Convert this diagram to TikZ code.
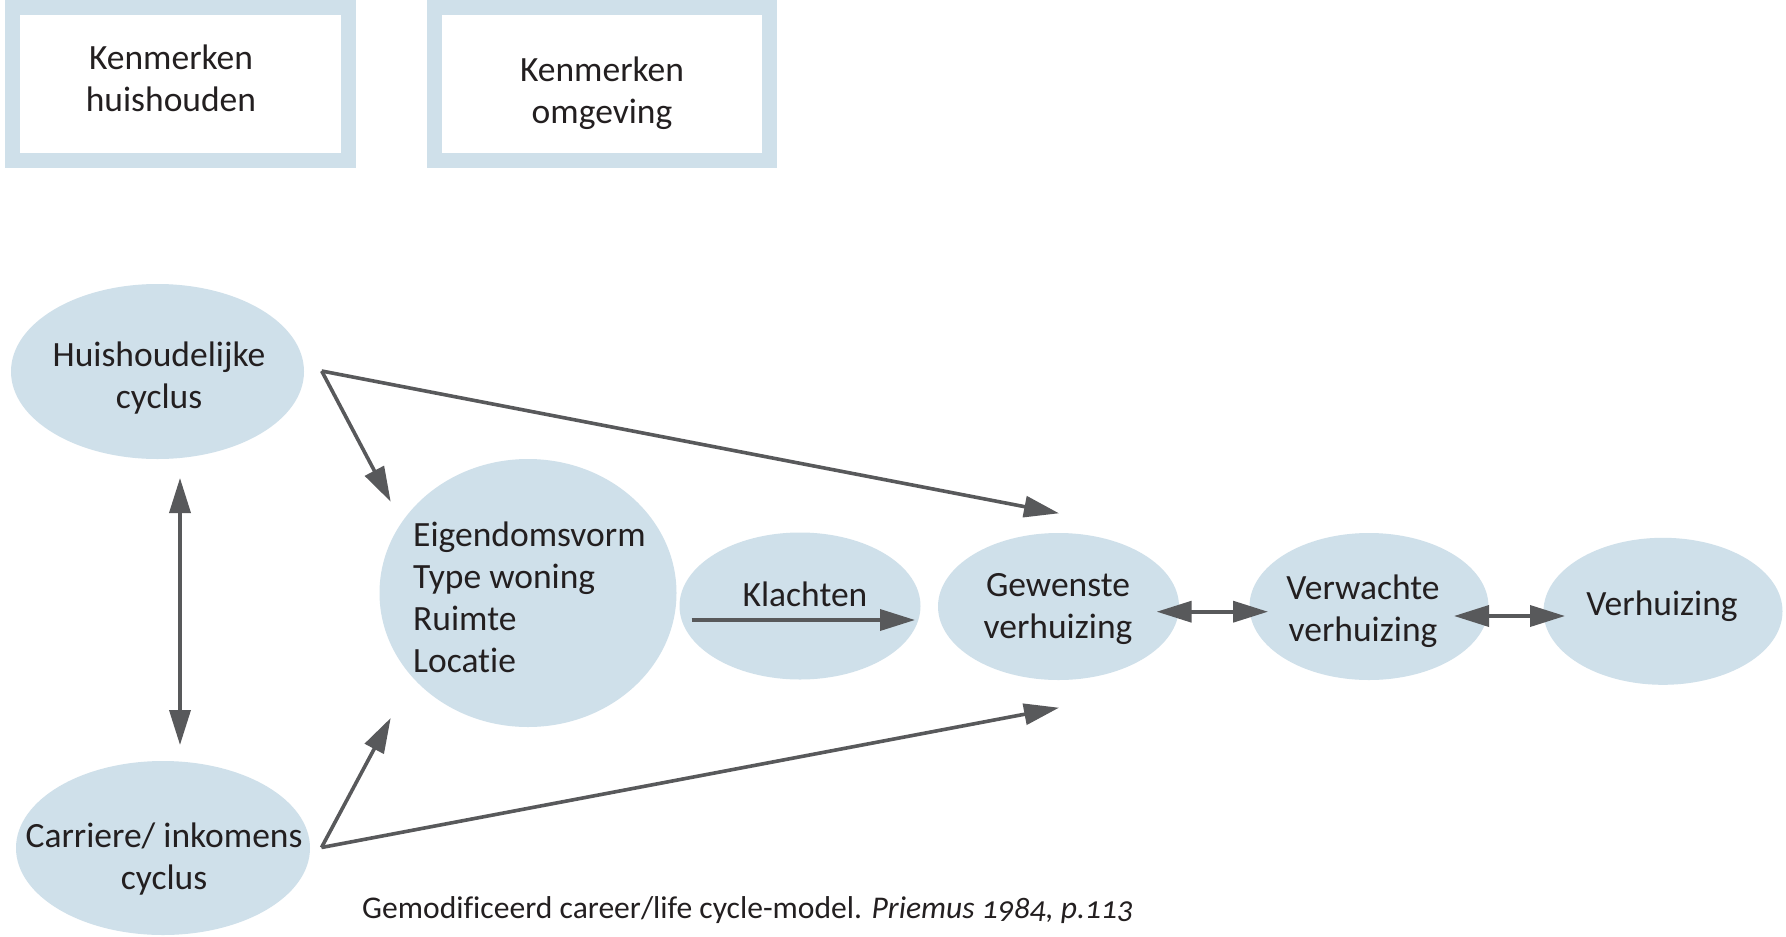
\documentclass[tikz,border=0pt]{standalone}
\usepackage{fontspec}
\setmainfont{Carlito}[Ligatures=NoCommon]
\usetikzlibrary{shapes.geometric,arrows.meta}

\definecolor{bubblefill}{RGB}{207,224,234}
\definecolor{arrowgray}{RGB}{88,89,91}
\definecolor{inkdark}{RGB}{35,31,32}

\tikzset{
  bubble/.style={ellipse, fill=bubblefill, draw=none, inner sep=0pt},
  framebox/.style={rectangle, draw=bubblefill, line width=15pt, fill=white, inner sep=0pt},
  lbl/.style={text=inkdark, font=\fontsize{35.5pt}{42pt}\selectfont, inner sep=0pt, align=center},
  lblleft/.style={lbl, align=left},
  caption/.style={text=inkdark, font=\fontsize{31.6pt}{38pt}\selectfont, inner sep=0pt},
  link/.style={draw=arrowgray, line width=3.6pt,
    -{Triangle[length=35pt,width=21pt]}},
  duallink/.style={draw=arrowgray, line width=3.6pt,
    {Triangle[length=35pt,width=21pt]}-{Triangle[length=35pt,width=21pt]}}
}

\begin{document}
\begin{tikzpicture}[x=1pt,y=-1pt]
  \useasboundingbox (0,0) rectangle (1786,937);
  \fill[white] (0,0) rectangle (1786,937);

  % framed boxes along the top
  \node[framebox, minimum width=336pt, minimum height=153pt] (boxHH) at (180.5,84) {};
  \node[framebox, minimum width=335pt, minimum height=153pt] (boxOM) at (602,84) {};
  \node[lbl] (boxHHtxt) at (171,78) {Kenmerken\\huishouden};
  \node[lbl] (boxOMtxt) at (602,93) {Kenmerken\\omgeving};

  % ellipses
  \node[bubble, minimum width=293pt, minimum height=175pt] (hh) at (157.5,371.5) {};
  \node[bubble, minimum width=294pt, minimum height=174pt] (ci) at (163,848) {};
  \node[bubble, minimum width=297pt, minimum height=268pt] (eig) at (528,593) {};
  \node[bubble, minimum width=241pt, minimum height=147pt] (kl) at (800,606) {};
  \node[bubble, minimum width=241pt, minimum height=147pt] (gew) at (1058.5,606.5) {};
  \node[bubble, minimum width=239pt, minimum height=147pt] (verw) at (1369,606.5) {};
  \node[bubble, minimum width=239pt, minimum height=147pt] (verh) at (1663,611.3) {};

  % ellipse texts
  \node[lbl] (hhtxt) at (159,378) {Huishoudelijke\\cyclus};
  \node[lbl] (citxt) at (164,859.5) {Carriere/ inkomens\\cyclus};
  \node[lblleft, anchor=west] (eigtxt) at (413,597.5) {Eigendomsvorm\\Type woning\\Ruimte\\Locatie};
  \node[lbl, anchor=base] (kltxt) at (805,606) {Klachten};
  \node[lbl] (gewtxt) at (1058,609.5) {Gewenste\\verhuizing};
  \node[lbl] (verwtxt) at (1363,611) {Verwachte\\verhuizing};
  \node[lbl, anchor=base] (verhtxt) at (1662,615) {Verhuizing};

  % connector end points
  \coordinate (hhApex) at (321.7,371);
  \coordinate (ciApex) at (321.5,847.5);
  \coordinate (eigIn) at (390.7,501.7);
  \coordinate (eigUp) at (390.7,718);
  \coordinate (gewIn) at (1059,513.3);
  \coordinate (gewUp) at (1059,707.7);
  \coordinate (cycTop) at (180,478);
  \coordinate (cycBot) at (180,745);
  \coordinate (klFrom) at (691.7,620);
  \coordinate (klTo) at (915,620);
  \coordinate (gvA) at (1156.7,611.7);
  \coordinate (gvB) at (1268,611.7);
  \coordinate (vvA) at (1454,616);
  \coordinate (vvB) at (1565,616);

  % connectors
  \draw[duallink] (cycTop) -- (cycBot);
  \draw[link] (hhApex) -- (eigIn);
  \draw[link] (hhApex) -- (gewIn);
  \draw[link] (ciApex) -- (eigUp);
  \draw[link] (ciApex) -- (gewUp);
  \draw[link] (klFrom) -- (klTo);
  \draw[duallink] (gvA) -- (gvB);
  \draw[duallink] (vvA) -- (vvB);

  % source line
  \node[caption, anchor=base west] (src) at (362,918)
    {Gemodificeerd career/life cycle-model. {\itshape\addfontfeatures{Numbers=OldStyle}Priemus 1984, p.113}};
\end{tikzpicture}
\end{document}
